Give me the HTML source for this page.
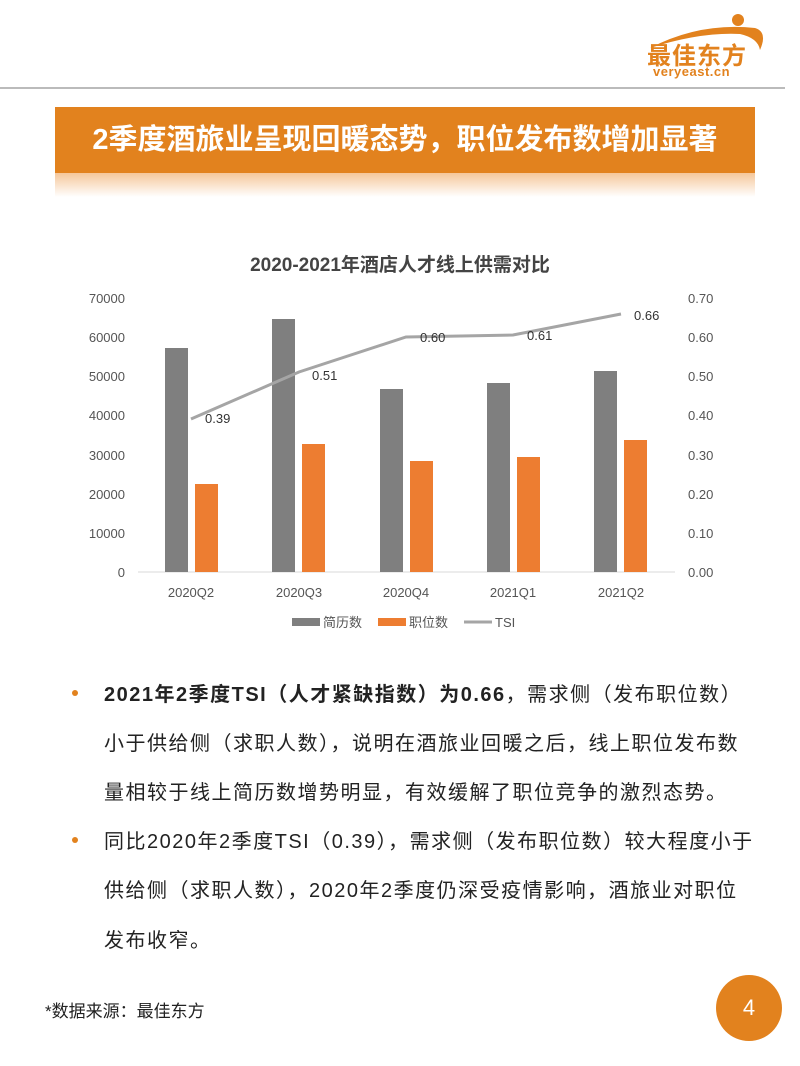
<!DOCTYPE html>
<html><head><meta charset="utf-8"><style>
body{margin:0;width:800px;height:1066px;background:#fff;position:relative;overflow:hidden;font-family:"Liberation Sans","Noto Sans CJK SC",sans-serif;}
.abs{position:absolute;}
.b{font-size:20px;letter-spacing:1.5px;color:#222;left:104px;white-space:nowrap;}
.dot{left:72px;width:6px;height:6px;border-radius:3px;background:#E2821E;}
</style></head><body>
<svg class="abs" style="left:630px;top:10px" width="140" height="70">
<path d="M20 38 Q70 12 125 18 Q138 22 130 40 Q128 28 110 24 Q70 22 20 38Z" fill="#E2821E"/>
<circle cx="108" cy="10" r="6" fill="#E2821E"/>
</svg>
<div class="abs" style="left:647px;top:36px;font-size:24px;font-weight:bold;color:#E2821E;letter-spacing:1px">最佳东方</div>
<div class="abs" style="left:653px;top:64px;font-size:13px;font-weight:bold;color:#E2821E;letter-spacing:0.5px">veryeast.cn</div>
<div class="abs" style="left:0;top:87px;width:785px;height:2px;background:#bbb"></div>
<div class="abs" style="left:55px;top:107px;width:700px;height:66px;background:#E2821E;color:#fff;font-size:29px;font-weight:bold;text-align:center;line-height:66px">2季度酒旅业呈现回暖态势，职位发布数增加显著</div>
<div class="abs" style="left:55px;top:173px;width:700px;height:24px;background:linear-gradient(#f5c79a,#fff)"></div>
<svg class="abs" style="left:0;top:240px" width="800" height="400" font-family="Liberation Sans, Noto Sans CJK SC, sans-serif">
<text x="400" y="31" text-anchor="middle" font-size="19" font-weight="bold" fill="#444">2020-2021年酒店人才线上供需对比</text>
<g font-size="13" fill="#555" text-anchor="end">
<text x="125" y="337">0</text><text x="125" y="298">10000</text><text x="125" y="259">20000</text><text x="125" y="220">30000</text><text x="125" y="180">40000</text><text x="125" y="141">50000</text><text x="125" y="102">60000</text><text x="125" y="63">70000</text>
</g>
<g font-size="13" fill="#555">
<text x="688" y="337">0.00</text><text x="688" y="298">0.10</text><text x="688" y="259">0.20</text><text x="688" y="220">0.30</text><text x="688" y="180">0.40</text><text x="688" y="141">0.50</text><text x="688" y="102">0.60</text><text x="688" y="63">0.70</text>
</g>
<line x1="138" y1="332" x2="675" y2="332" stroke="#d9d9d9"/>
<g fill="#7F7F7F">
<rect x="165" y="108" width="23" height="224"/><rect x="272" y="79" width="23" height="253"/><rect x="380" y="149" width="23" height="183"/><rect x="487" y="143" width="23" height="189"/><rect x="594" y="131" width="23" height="201"/>
</g>
<g fill="#ED7D31">
<rect x="195" y="244" width="23" height="88"/><rect x="302" y="204" width="23" height="128"/><rect x="410" y="221" width="23" height="111"/><rect x="517" y="217" width="23" height="115"/><rect x="624" y="200" width="23" height="132"/>
</g>
<polyline points="191,179 299,132 406,97 513,95 621,74" fill="none" stroke="#A5A5A5" stroke-width="3"/>
<g font-size="13" fill="#333">
<text x="205" y="183">0.39</text><text x="312" y="140">0.51</text><text x="420" y="102">0.60</text><text x="527" y="100">0.61</text><text x="634" y="80">0.66</text>
</g>
<g font-size="13" fill="#555" text-anchor="middle">
<text x="191" y="357">2020Q2</text><text x="299" y="357">2020Q3</text><text x="406" y="357">2020Q4</text><text x="513" y="357">2021Q1</text><text x="621" y="357">2021Q2</text>
</g>
<g font-size="13" fill="#555">
<rect x="292" y="378" width="28" height="8" fill="#7F7F7F"/><text x="323" y="387">简历数</text>
<rect x="378" y="378" width="28" height="8" fill="#ED7D31"/><text x="409" y="387">职位数</text>
<line x1="464" y1="382" x2="492" y2="382" stroke="#A5A5A5" stroke-width="3"/><text x="495" y="387">TSI</text>
</g>
</svg>
<div class="abs dot" style="top:690px"></div>
<div class="abs b" style="top:678px"><b>2021年2季度TSI（人才紧缺指数）为0.66</b>，需求侧（发布职位数）</div>
<div class="abs b" style="top:727px">小于供给侧（求职人数），说明在酒旅业回暖之后，线上职位发布数</div>
<div class="abs b" style="top:776px">量相较于线上简历数增势明显，有效缓解了职位竞争的激烈态势。</div>
<div class="abs dot" style="top:837px"></div>
<div class="abs b" style="top:825px">同比2020年2季度TSI（0.39），需求侧（发布职位数）较大程度小于</div>
<div class="abs b" style="top:874px">供给侧（求职人数），2020年2季度仍深受疫情影响，酒旅业对职位</div>
<div class="abs b" style="top:924px">发布收窄。</div>
<div class="abs" style="left:45px;top:997px;font-size:17px;color:#222">*数据来源：最佳东方</div>
<div class="abs" style="left:716px;top:975px;width:66px;height:66px;border-radius:33px;background:#E2821E;color:#fff;font-size:22px;text-align:center;line-height:66px">4</div>
</body></html>
